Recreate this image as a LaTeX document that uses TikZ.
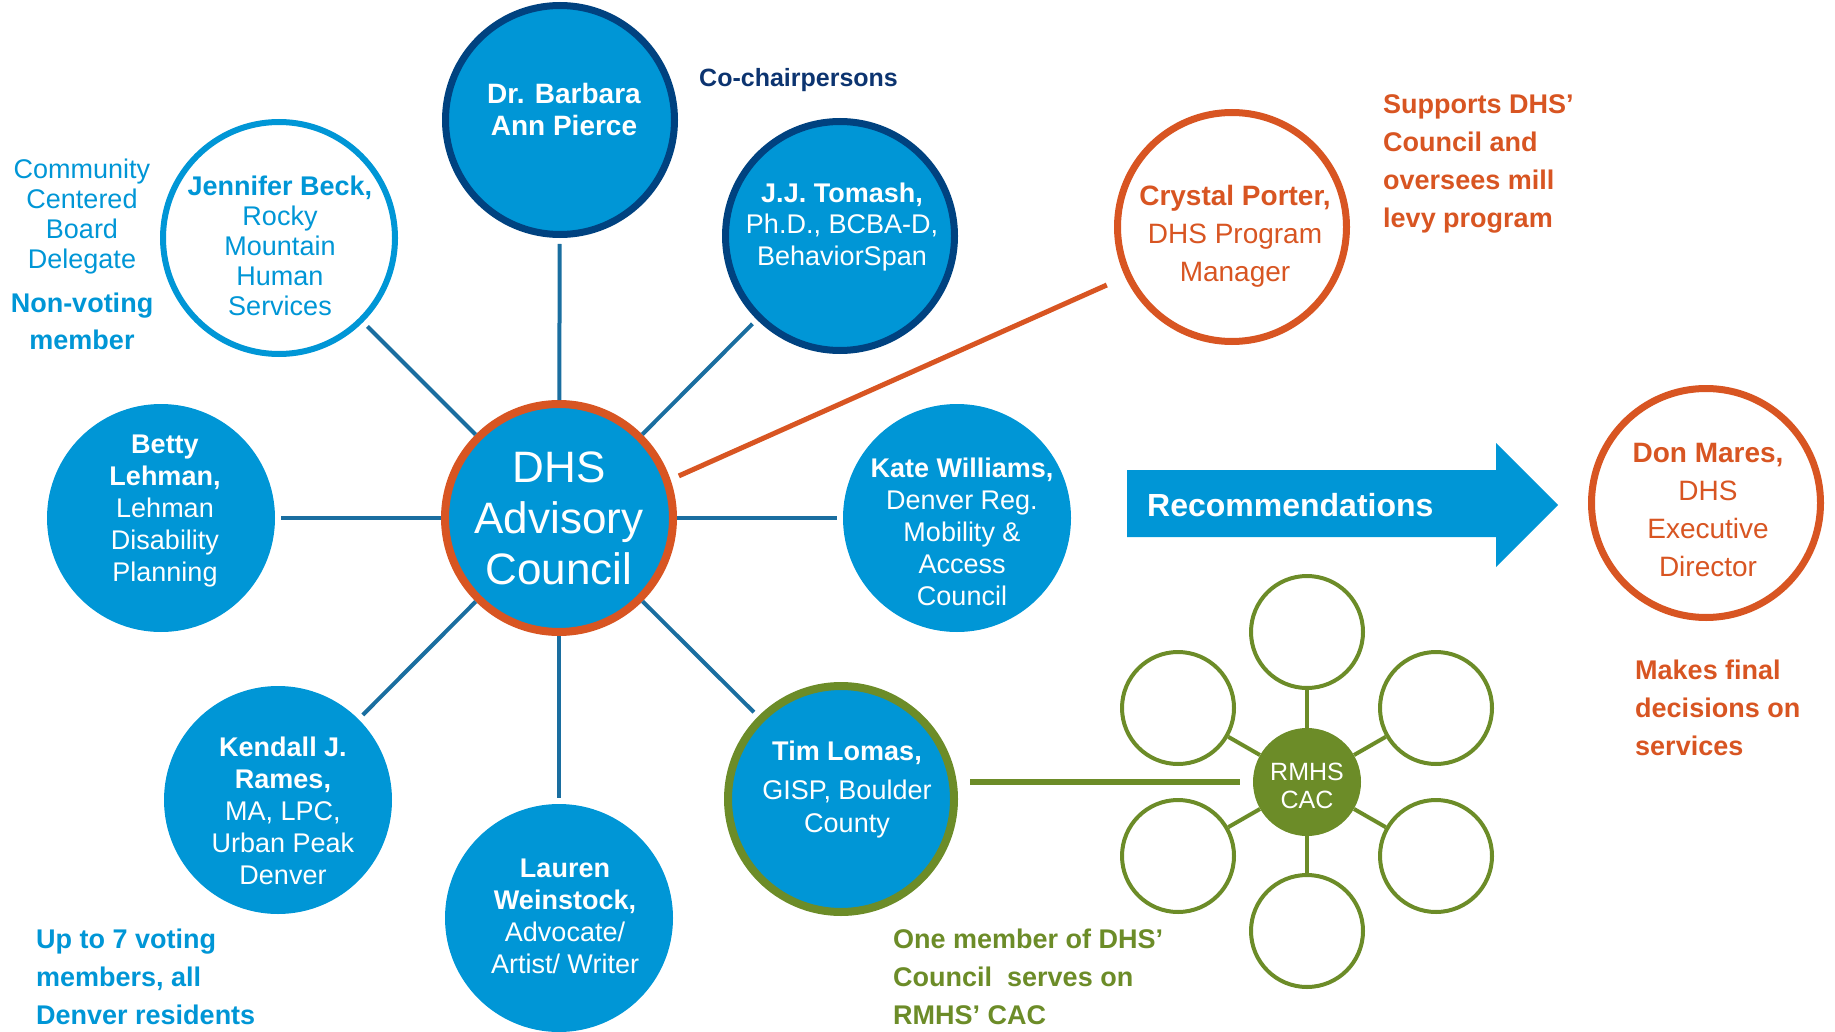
\documentclass[tikz,border=0pt]{standalone}
\usepackage{fontspec}
\setmainfont{Liberation Sans}
\definecolor{cblue}{RGB}{0,150,214}
\definecolor{cnavy}{RGB}{0,66,128}
\definecolor{ctextnavy}{RGB}{12,52,112}
\definecolor{corange}{RGB}{216,85,34}
\definecolor{cgreen}{RGB}{108,140,40}
\definecolor{cspoke}{RGB}{26,110,160}
\begin{document}
\begin{tikzpicture}[x=1pt,y=-1pt,
  member/.style={circle, fill=cblue, draw=none, inner sep=0pt, minimum size=228pt},
  chair/.style={circle, fill=cblue, draw=cnavy, line width=7pt, inner sep=0pt, minimum size=229pt},
  hub/.style={circle, fill=cblue, draw=corange, line width=8pt, inner sep=0pt, minimum size=228pt},
  staff/.style={circle, fill=white, draw=corange, line width=7pt, inner sep=0pt, minimum size=229pt},
  delegate/.style={circle, fill=white, draw=cblue, line width=6pt, inner sep=0pt, minimum size=232pt},
  liaison/.style={circle, fill=cblue, draw=cgreen, line width=8pt, inner sep=0pt, minimum size=226pt},
  cacsat/.style={circle, fill=white, draw=cgreen, line width=4pt, inner sep=0pt, minimum size=112pt},
  cachub/.style={circle, fill=cgreen, draw=none, inner sep=0pt, minimum size=108pt},
  wtext/.style={text=white, align=center, inner sep=0pt, font=\fontsize{27}{32}\selectfont},
  note/.style={align=left, anchor=west, inner sep=0pt, font=\bfseries\fontsize{27}{38}\selectfont},
  spoke/.style={draw=cspoke, line width=4pt, shorten >=6pt},
  cacline/.style={draw=cgreen, line width=4pt},
]
\useasboundingbox (0,0) rectangle (1835,1032);

% circles
\node[hub] (dhs) at (559,518) {};
\node[chair] (barbara) at (560,120) {};
\node[chair] (jj) at (840,236) {};
\node[delegate] (jen) at (279,238) {};
\node[member] (betty) at (161,518) {};
\node[member] (kendall) at (278,800) {};
\node[member] (lauren) at (559,918) {};
\node[liaison] (tim) at (841,799) {};
\node[member] (kate) at (957,518) {};
\node[staff] (crystal) at (1232,227) {};
\node[staff] (don) at (1706,503) {};

% spokes
\draw[spoke] (dhs) -- (barbara);
\draw[spoke] (dhs) -- (jj);
\draw[spoke] (dhs) -- (jen);
\draw[spoke] (dhs) -- (betty);
\draw[spoke] (dhs) -- (kendall);
\draw[spoke] (dhs) -- (lauren);
\draw[spoke] (dhs) -- (tim);
\draw[spoke] (dhs) -- (kate);
\draw[draw=corange, line width=5pt, shorten <=9pt, shorten >=20pt] (dhs.19.7) -- (crystal.205.8);

% circle texts
\node[wtext, font=\fontsize{44}{51}\selectfont] (dhs-t) at (559,518) {DHS\\Advisory\\Council};
\node[wtext, font=\bfseries\fontsize{28}{32}\selectfont] (barbara-t) at (564,109) {Dr. Barbara\\Ann Pierce};
\node[wtext, font=\fontsize{27}{31.5}\selectfont] (jj-t) at (842,227) {\textbf{J.J. Tomash,}\\Ph.D., BCBA-D,\\BehaviorSpan};
\node[wtext, text=cblue, font=\fontsize{27}{30}\selectfont] (jen-t) at (280,246) {\textbf{Jennifer Beck,}\\Rocky\\Mountain\\Human\\Services};
\node[wtext] (betty-t) at (165,511) {\textbf{Betty}\\\textbf{Lehman,}\\Lehman\\Disability\\Planning};
\node[wtext] (kendall-t) at (283,811) {\textbf{Kendall J.}\\\textbf{Rames,}\\MA, LPC,\\Urban Peak\\Denver};
\node[wtext] (lauren-t) at (565,916) {\textbf{Lauren}\\\textbf{Weinstock,}\\Advocate/\\Artist/ Writer};
\node[wtext, font=\fontsize{27}{33}\selectfont] (tim-t) at (847,790) {\textbf{Tim Lomas,}\\[6pt]GISP, Boulder\\County};
\node[wtext] (kate-t) at (962,532) {\textbf{Kate Williams,}\\Denver Reg.\\Mobility \&\\Access\\Council};
\node[wtext, text=corange, font=\fontsize{28}{38}\selectfont] (crystal-t) at (1235,236) {\textbf{Crystal Porter,}\\DHS Program\\Manager};
\node[wtext, text=corange, font=\fontsize{28}{38}\selectfont] (don-t) at (1708,510) {\textbf{Don Mares,}\\DHS\\Executive\\Director};

% RMHS CAC cluster
\node[cachub] (rmhs) at (1307,782) {};
\node[wtext, font=\fontsize{25}{28}\selectfont] (rmhs-t) at (1307,786) {RMHS\\CAC};
\node[cacsat] (s1) at (1307,632) {};
\node[cacsat] (s2) at (1436,708) {};
\node[cacsat] (s3) at (1436,856) {};
\node[cacsat] (s4) at (1307,931) {};
\node[cacsat] (s5) at (1178,856) {};
\node[cacsat] (s6) at (1178,708) {};
\foreach \s in {s1,s2,s3,s4,s5,s6} {\draw[cacline] (rmhs) -- (\s);}
\draw[draw=cgreen, line width=6pt] ([xshift=12pt]tim.east |- rmhs.west) -- ([xshift=-13pt]rmhs.west);

% Recommendations arrow
\fill[cblue] (1127,470) -- (1496,470) -- (1496,443) -- (1558,505) -- (1496,567) -- (1496,537) -- (1127,537) -- cycle;
\node[anchor=west, inner sep=0pt, text=white, font=\bfseries\fontsize{32}{36}\selectfont] (rec) at (1147,505) {Recommendations};

% annotations
\node[anchor=west, inner sep=0pt, text=ctextnavy, font=\bfseries\fontsize{25}{30}\selectfont] (cochair) at (699,80) {Co-chairpersons};
\node[align=center, inner sep=0pt, text=cblue, font=\fontsize{27}{30}\selectfont] (ccb) at (82,217) {Community\\Centered\\Board\\Delegate};
\node[align=center, inner sep=0pt, text=cblue, font=\bfseries\fontsize{27}{37}\selectfont] (nonvote) at (82,321) {Non-voting\\member};
\node[note, text=corange] (supports) at (1383,164) {Supports DHS’\\Council and\\oversees mill\\levy program};
\node[note, text=corange] (final) at (1635,708) {Makes final\\decisions on\\services};
\node[note, text=cblue] (voting) at (36,977) {Up to 7 voting\\members, all\\Denver residents};
\node[note, text=cgreen] (onemember) at (893,977) {One member of DHS’\\Council\ \ serves on\\RMHS’ CAC};
\end{tikzpicture}
\end{document}
